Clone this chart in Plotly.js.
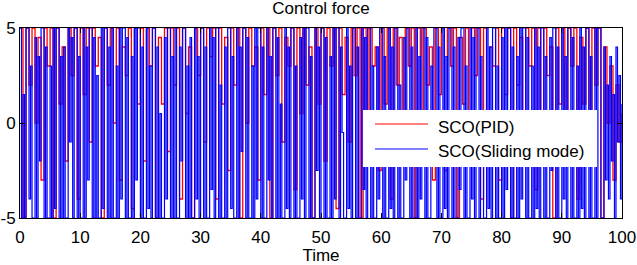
<!DOCTYPE html>
<html>
<head>
<meta charset="utf-8">
<script src="https://cdn.plot.ly/plotly-3.0.1.min.js"></script>
<style>html,body{margin:0;padding:0;background:#fff;}#chart{width:637px;height:265px;}</style>
</head>
<body>
<div id="chart"></div>
<script>
// Sampling step of each series (seconds, zero-order hold)
const dtSliding = 0.25;
const dtPID = 0.5;

// SCO(Sliding mode) control force, one array per 10 s
const sliding00 = [5,-5,1.5,-5,5,5,-4,3,-5,-5,4.5,-5,3.5,-2,5,5,-5,4,-5,-5,
                   3,-5,5,-4.5,5,5,-5,3.5,-5,4,-5,-5,5,-1,4.5,-5,5,5,-5,3.5];
const sliding10 = [-5,-5,5,-5,4,-3,5,5,-5,4.5,-5,2.5,-5,-5,5,-4.5,5,5,-5,4,
                   -5,5,-5,-5,3,-5,5,-4,5,5,-5,4.5,-5,-5,3.5,-5,5,-3,5,5];
const sliding20 = [-5,4,-5,-5,5,-4.5,3,-5,5,5,-5,4,-5,0.5,-5,-5,4.5,-4,5,5,
                   -5,3.5,-5,5,-5,-5,4,-2,5,5,-5,3,-5,4.5,-5,-5,5,-4,3.5,-5];
const sliding30 = [5,5,-5,4,-5,-5,5,-3.5,4.5,-5,5,5,-5,2,-5,-5,4,-5,5,5,
                   -4.5,3.5,-5,-5,5,-5,4,-1.5,5,5,-5,4.5,-5,-5,3,-5,5,-4,5,5];
const sliding40 = [-5,4,-5,-5,5,-3,3.5,-5,5,5,-5,4.5,-5,1,-5,-5,5,-4.5,4,-5,
                   5,5,-5,3,-5,-5,4.5,-4,5,-5,5,5,-5,3.5,-5,-5,5,-2.5,4,-5];
const sliding50 = [5,5,-5,4.5,-5,-5,3.5,-5,5,-4,5,5,-5,4,-0.5,-5,-5,5,-4.5,3,
                   -5,5,5,-5,4,-5,-5,5,-3.5,4.5,-5,5,5,-5,3,-5,-5,4,-4,5];
const sliding60 = [5,-5,3.5,-5,-5,5,-4.5,4,-5,5,5,-5,2,-5,-5,4.5,-3,5,5,-5,
                   4,-5,-5,5,-5,3.5,-4,5,5,-5,4.5,-5,-5,3,-1,5,5,-5,4,-5];
const sliding70 = [-5,5,-4.5,3.5,-5,5,5,-5,4,-5,-5,4.5,-3.5,5,5,-5,3,-5,-5,5,
                   -4,4.5,-5,5,5,-5,3.5,-2,-5,-5,5,-4.5,4,-5,5,5,-5,3,-5,-5];
const sliding80 = [4.5,-5,5,-3.5,5,5,-5,4,-5,-5,3.5,-5,5,-4,5,5,-5,4.5,-5,-5,
                   3,-5,5,-4.5,4,-5,5,5,-5,3.5,-5,-5,4.5,-2.5,5,5,-5,4,-5,-5];
const sliding90 = [5,-4,3.5,-5,5,5,-5,4.5,-5,-5,3,-5,5,-4.5,4,-5,5,5,-5,3.5,
                   -5,-5,5,-5,5,5,-5,-5,4,-3,2,-4,3.5,-2,1.5,-5,4,-1,2.5,-4,
                   1];

// SCO(PID) control force, one array per 10 s
const pid00 = [5,-5,5,2,5,0,4.5,-3,5,3,5,-5,5,1,4,-2,5,2.5,5,-4];
const pid10 = [5,1.5,5,-1,5,3,4.5,-5,5,2,5,0,5,-3,4,2.5,5,-4.5,5,1];
const pid20 = [5,-2,5,3,5,-5,4.5,1,5,-1.5,5,2,5,-4,5,0.5,4,-5,5,2.5];
const pid30 = [5,-1,5,3.5,5,-4,5,1,4.5,-2.5,5,2,5,-5,5,0,5,3,4,-3];
const pid40 = [5,1.5,5,-5,5,2.5,5,-1,4.5,3,5,-3.5,5,0.5,5,2,4,-5,5,1];
const pid50 = [5,-2,5,3,5,-4.5,5,1.5,4.5,-1,5,2.5,5,-5,5,0,5,3,4,-2.5];
const pid60 = [5,1,5,-4,5,2,4.5,-1.5,5,3,5,-5,5,0.5,5,2,4,-3,5,1.5];
const pid70 = [5,-2.5,5,3,5,-5,4.5,1,5,-1,5,2.5,5,-4,5,0,4,3,5,-3];
const pid80 = [5,1.5,5,-5,5,2,4.5,-2,5,3,5,-3.5,5,0.5,5,2.5,4,-5,5,1];
const pid90 = [5,-1.5,5,3,5,-4,4.5,1,5,-2,5,2,5,-5,4,0,3,-3,2,-1,
               0.5];

// Axis ticks
const xTicks = [0,10,20,30,40,50,60,70,80,90,100];
const yTicks = [-5,0,5];
const yTickText = ['-5','0','5'];

// Legend labels
const seriesNames = ['SCO(PID)', 'SCO(Sliding mode)'];
const seriesColors = ['rgb(255,0,0)', 'rgb(0,0,255)'];

const slidingY = [].concat(sliding00,sliding10,sliding20,sliding30,sliding40,
                           sliding50,sliding60,sliding70,sliding80,sliding90);
const pidY = [].concat(pid00,pid10,pid20,pid30,pid40,pid50,pid60,pid70,pid80,pid90);
const slidingX = slidingY.map((_, i) => i * dtSliding);
const pidX = pidY.map((_, i) => i * dtPID);

const FONT = 'Arial, "Liberation Sans", sans-serif';

const traces = [
  {x: pidX, y: pidY, type: 'scatter', mode: 'lines', name: seriesNames[0],
   line: {color: seriesColors[0], width: 1.3, shape: 'hv'}, showlegend: false},
  {x: slidingX, y: slidingY, type: 'scatter', mode: 'lines', name: seriesNames[1],
   line: {color: seriesColors[1], width: 1.2, shape: 'hv'}, showlegend: false}
];

const axisCommon = {
  showline: true, mirror: 'ticks', linecolor: '#000', linewidth: 1,
  ticks: 'inside', ticklen: 5, tickcolor: '#000', tickwidth: 1,
  showgrid: false, zeroline: false,
  tickfont: {family: FONT, size: 17, color: '#000'}
};

// Legend box (MATLAB-style, drawn in paper units)
const legBox = {x0: 0.5698, x1: 0.9585, y0: 0.2684, y1: 0.5684};
const legRows = [0.4947, 0.3632];
const legLine = {x0: 0.5897, x1: 0.6777};
const legTextX = 0.6910;
const legTextDy = -0.0158;

const shapes = [{type: 'rect', xref: 'paper', yref: 'paper',
                 x0: legBox.x0, x1: legBox.x1, y0: legBox.y0, y1: legBox.y1,
                 fillcolor: '#fff', line: {width: 0}, layer: 'above'}];
const annotations = [];
seriesNames.forEach((nm, i) => {
  shapes.push({type: 'line', xref: 'paper', yref: 'paper',
               x0: legLine.x0, x1: legLine.x1, y0: legRows[i], y1: legRows[i],
               line: {color: seriesColors[i], width: 1}, layer: 'above'});
  annotations.push({xref: 'paper', yref: 'paper', x: legTextX, y: legRows[i] + legTextDy,
                    xanchor: 'left', yanchor: 'middle', showarrow: false, text: nm,
                    font: {family: FONT, size: 17, color: '#000'}});
});

const layout = {
  width: 637, height: 265,
  margin: {l: 20, r: 15, t: 28, b: 47, pad: 0},
  paper_bgcolor: '#fff', plot_bgcolor: '#fff',
  font: {family: FONT, size: 17, color: '#000'},
  title: {text: 'Control force', font: {family: FONT, size: 17, color: '#000'},
          x: 0.5, xref: 'paper', y: 0.968, yref: 'container', yanchor: 'middle'},
  xaxis: Object.assign({}, axisCommon, {
    range: [0, 100], tickvals: xTicks, ticktext: xTicks.map(String),
    ticklabelstandoff: 4,
    title: {text: 'Time', font: {family: FONT, size: 17, color: '#000'}, standoff: 12}
  }),
  yaxis: Object.assign({}, axisCommon, {
    range: [-5, 5], tickvals: yTicks, ticktext: yTickText
  }),
  showlegend: false,
  shapes: shapes,
  annotations: annotations
};

Plotly.newPlot('chart', traces, layout, {displayModeBar: false, staticPlot: true});
</script>
</body>
</html>
